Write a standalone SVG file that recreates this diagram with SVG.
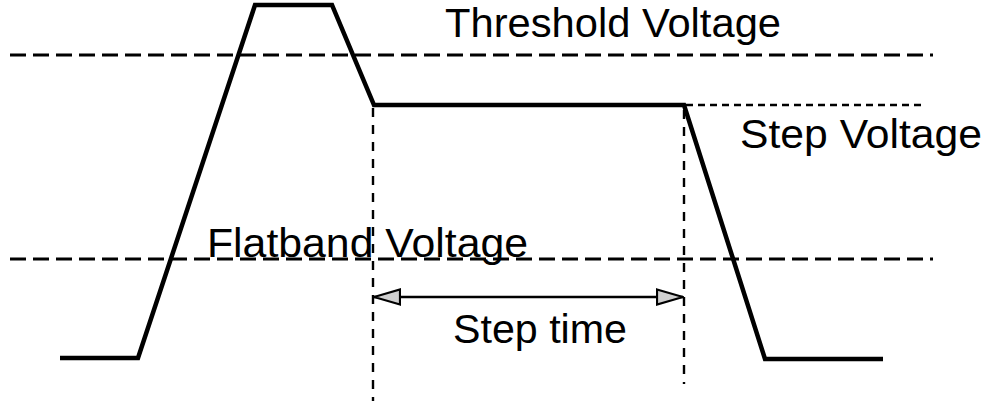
<svg xmlns="http://www.w3.org/2000/svg" width="990" height="403" viewBox="0 0 990 403">
  <style>
    .lbl { font-family: "Liberation Sans", Arial, sans-serif; font-size: 40px; fill: #000; }
    .wave { fill: none; stroke: #000; stroke-width: 4.5; stroke-linejoin: miter; }
    .hdash { fill: none; stroke: #000; stroke-width: 3; stroke-dasharray: 16 7; }
    .hdot { fill: none; stroke: #000; stroke-width: 2.6; stroke-dasharray: 7 5; }
    .vdash { fill: none; stroke: #000; stroke-width: 2.4; stroke-dasharray: 9 8; }
    .dim { fill: none; stroke: #000; stroke-width: 2.5; }
  </style>
  <defs>
    <marker id="ah" viewBox="0 0 28 18" refX="27" refY="9" markerWidth="28" markerHeight="18" markerUnits="userSpaceOnUse" orient="auto-start-reverse">
      <path d="M1,1.5 L27,9 L1,16.5 Z" fill="#cfcfcf" stroke="#000" stroke-width="2.2"/>
    </marker>
  </defs>

  <g id="reference-lines">
    <line id="threshold-line" class="hdash" x1="10" y1="55" x2="933" y2="55"/>
    <line id="step-voltage-line" class="hdot" x1="686" y1="105" x2="921" y2="105"/>
    <line id="flatband-line" class="hdash" x1="10" y1="259" x2="933" y2="259"/>
    <line id="step-start" class="vdash" x1="373" y1="108" x2="373" y2="401"/>
    <line id="step-end" class="vdash" x1="684" y1="110" x2="684" y2="384"/>
  </g>

  <g id="waveform">
    <polyline class="wave" points="60,358 138,358 255,5 332,5 374,105 684,105 765,359 883,359"/>
  </g>

  <g id="connectors">
    <line id="step-time-arrow" class="dim" x1="374" y1="297" x2="683" y2="297" marker-start="url(#ah)" marker-end="url(#ah)"/>
  </g>

  <g id="labels">
    <text id="threshold-label" class="lbl" x="445" y="37" font-size="41" textLength="336" lengthAdjust="spacingAndGlyphs">Threshold Voltage</text>
    <text id="step-voltage-label" class="lbl" x="740" y="148" font-size="41" textLength="242" lengthAdjust="spacingAndGlyphs">Step Voltage</text>
    <text id="flatband-label" class="lbl" x="207" y="257" font-size="41" textLength="321" lengthAdjust="spacingAndGlyphs">Flatband Voltage</text>
    <text id="step-time-label" class="lbl" x="453" y="343" font-size="40" textLength="174" lengthAdjust="spacingAndGlyphs">Step time</text>
  </g>
</svg>
